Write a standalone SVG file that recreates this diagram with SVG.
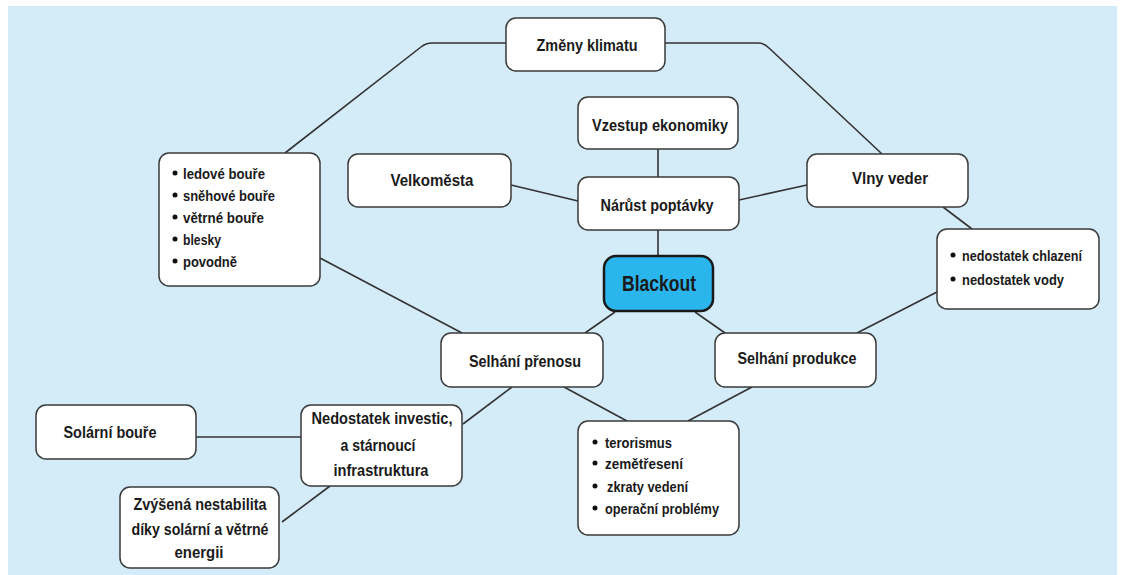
<svg xmlns="http://www.w3.org/2000/svg" width="1121" height="575" viewBox="0 0 1121 575">
<style>
.bg{fill:#d4ebf8}
.box{fill:#ffffff;stroke:#3a3a3a;stroke-width:1.5}
.main{fill:#2ab5ec;stroke:#1a1a1a;stroke-width:2.5}
.t{font-family:"Liberation Sans",Arial,sans-serif;font-weight:bold;font-size:16px;fill:#1a1a1a;text-anchor:middle;dominant-baseline:central}
.b{font-family:"Liberation Sans",Arial,sans-serif;font-weight:bold;font-size:15px;fill:#1a1a1a;dominant-baseline:central}
.big{font-size:22px}
.dot{fill:#111}
.c{fill:none;stroke:#333;stroke-width:1.6}
</style>
<rect class="bg" x="8" y="6" width="1109" height="569"/>
<g id="connectors">
<path class="c" d="M506,43 H432 Q426,43 421,47 L285,153"/>
<path class="c" d="M665,43 H758 Q764,43 769,48 L882,154"/>
<path class="c" d="M658,149 V177"/>
<path class="c" d="M511,185 L578,201"/>
<path class="c" d="M739,200 L807,185"/>
<path class="c" d="M658,230 V256"/>
<path class="c" d="M943,207 L972,229"/>
<path class="c" d="M937,292 L857,333"/>
<path class="c" d="M615,312 L585,333"/>
<path class="c" d="M695,312 L725,333"/>
<path class="c" d="M320,258 L462,333"/>
<path class="c" d="M512,387 L463,424"/>
<path class="c" d="M564,387 L627,421"/>
<path class="c" d="M752,387 L688,421"/>
<path class="c" d="M196,437 H301"/>
<path class="c" d="M330,486 L282,522"/>
</g>
<g id="zmeny-klimatu">
<rect class="box" x="506" y="18" width="159" height="53" rx="10"/>
<text class="t" x="587" y="45" textLength="101" lengthAdjust="spacingAndGlyphs">Změny klimatu</text>
</g>
<g id="vzestup-ekonomiky">
<rect class="box" x="578" y="97" width="160" height="52" rx="10"/>
<text class="t" x="660" y="125" textLength="136" lengthAdjust="spacingAndGlyphs">Vzestup ekonomiky</text>
</g>
<g id="velkomesta">
<rect class="box" x="348" y="154" width="163" height="53" rx="10"/>
<text class="t" x="432" y="180" textLength="83" lengthAdjust="spacingAndGlyphs">Velkoměsta</text>
</g>
<g id="narust-poptavky">
<rect class="box" x="578" y="177" width="161" height="53" rx="10"/>
<text class="t" x="657" y="205" textLength="113" lengthAdjust="spacingAndGlyphs">Nárůst poptávky</text>
</g>
<g id="vlny-veder">
<rect class="box" x="807" y="154" width="161" height="53" rx="10"/>
<text class="t" x="890" y="178" textLength="76" lengthAdjust="spacingAndGlyphs">Vlny veder</text>
</g>
<g id="pocasi">
<rect class="box" x="159" y="153" width="161" height="133" rx="10"/>
<circle class="dot" cx="175" cy="173" r="2.5"/>
<text class="b" x="183" y="173" textLength="82" lengthAdjust="spacingAndGlyphs">ledové bouře</text>
<circle class="dot" cx="175" cy="195" r="2.5"/>
<text class="b" x="183" y="195" textLength="92" lengthAdjust="spacingAndGlyphs">sněhové bouře</text>
<circle class="dot" cx="175" cy="217" r="2.5"/>
<text class="b" x="183" y="217" textLength="81" lengthAdjust="spacingAndGlyphs">větrné bouře</text>
<circle class="dot" cx="175" cy="239" r="2.5"/>
<text class="b" x="183" y="239" textLength="38" lengthAdjust="spacingAndGlyphs">blesky</text>
<circle class="dot" cx="175" cy="261" r="2.5"/>
<text class="b" x="183" y="261" textLength="54" lengthAdjust="spacingAndGlyphs">povodně</text>
</g>
<g id="nedostatek">
<rect class="box" x="937" y="229" width="162" height="80" rx="10"/>
<circle class="dot" cx="953" cy="255" r="2.5"/>
<text class="b" x="962" y="255" textLength="120" lengthAdjust="spacingAndGlyphs">nedostatek chlazení</text>
<circle class="dot" cx="953" cy="279" r="2.5"/>
<text class="b" x="962" y="279" textLength="102" lengthAdjust="spacingAndGlyphs">nedostatek vody</text>
</g>
<g id="blackout">
<rect class="main" x="604" y="256" width="109" height="55" rx="12"/>
<text class="t big" x="659" y="283" textLength="74" lengthAdjust="spacingAndGlyphs">Blackout</text>
</g>
<g id="selhani-prenosu">
<rect class="box" x="441" y="333" width="162" height="54" rx="10"/>
<text class="t" x="525" y="361" textLength="112" lengthAdjust="spacingAndGlyphs">Selhání přenosu</text>
</g>
<g id="selhani-produkce">
<rect class="box" x="715" y="333" width="161" height="54" rx="10"/>
<text class="t" x="797" y="358" textLength="119" lengthAdjust="spacingAndGlyphs">Selhání produkce</text>
</g>
<g id="pricina">
<rect class="box" x="578" y="421" width="161" height="114" rx="10"/>
<circle class="dot" cx="595" cy="442" r="2.5"/>
<text class="b" x="605" y="442" textLength="67" lengthAdjust="spacingAndGlyphs">terorismus</text>
<circle class="dot" cx="595" cy="463" r="2.5"/>
<text class="b" x="605" y="463" textLength="78" lengthAdjust="spacingAndGlyphs">zemětřesení</text>
<circle class="dot" cx="595" cy="486" r="2.5"/>
<text class="b" x="607" y="486" textLength="81" lengthAdjust="spacingAndGlyphs">zkraty vedení</text>
<circle class="dot" cx="595" cy="508" r="2.5"/>
<text class="b" x="605" y="508" textLength="114" lengthAdjust="spacingAndGlyphs">operační problémy</text>
</g>
<g id="solarni-boure">
<rect class="box" x="36" y="405" width="160" height="54" rx="10"/>
<text class="t" x="110" y="432" textLength="93" lengthAdjust="spacingAndGlyphs">Solární bouře</text>
</g>
<g id="nedostatek-investic">
<rect class="box" x="301" y="405" width="161" height="81" rx="10"/>
<text class="t" x="382" y="418" textLength="141" lengthAdjust="spacingAndGlyphs">Nedostatek investic,</text>
<text class="t" x="378" y="445" textLength="75" lengthAdjust="spacingAndGlyphs">a stárnoucí</text>
<text class="t" x="381" y="470" textLength="95" lengthAdjust="spacingAndGlyphs">infrastruktura</text>
</g>
<g id="zvysena-nestabilita">
<rect class="box" x="120" y="487" width="159" height="81" rx="10"/>
<text class="t" x="200" y="504" textLength="133" lengthAdjust="spacingAndGlyphs">Zvýšená nestabilita</text>
<text class="t" x="200" y="529" textLength="137" lengthAdjust="spacingAndGlyphs">díky solární a větrné</text>
<text class="t" x="199" y="552" textLength="49" lengthAdjust="spacingAndGlyphs">energii</text>
</g>
</svg>
